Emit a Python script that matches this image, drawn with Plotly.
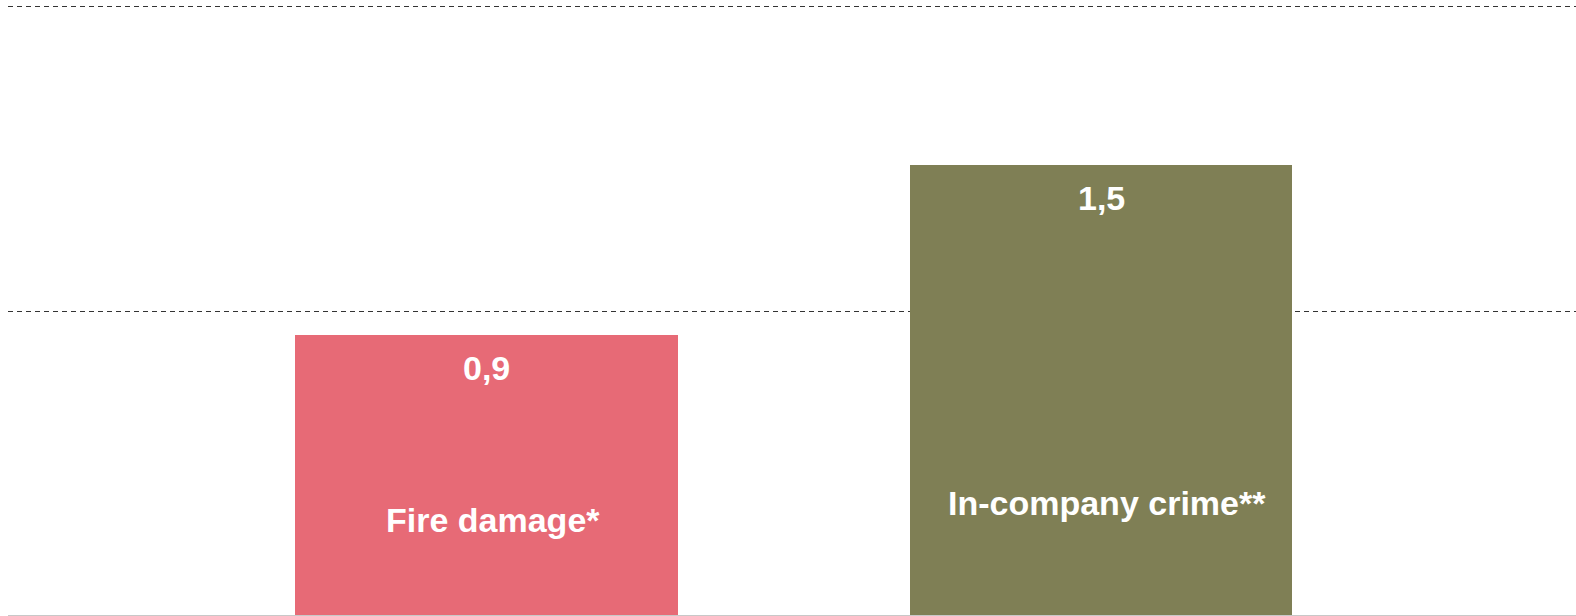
import plotly.graph_objects as go

# Data
categories = ["Fire damage*", "In-company crime**"]
values = [0.92, 1.48]
value_labels = ["0,9", "1,5"]
bar_colors = ["#E76A76", "#7F7F55"]
grid_ticks = [1, 2]

# Layout constants (label placement in axis units)
category_label_y = [0.311, 0.367]

fig = go.Figure()
fig.add_trace(go.Bar(
    x=[0, 1],
    y=values,
    width=0.623,
    marker=dict(color=bar_colors, line=dict(width=0)),
    hoverinfo="skip",
    showlegend=False,
))

font = dict(family="Arial, Liberation Sans, sans-serif", size=34, color="white")
for i, (v, lab) in enumerate(zip(values, value_labels)):
    fig.add_annotation(x=i, y=v, text="<b>%s</b>" % lab, showarrow=False,
                       xref="x", yref="y", yanchor="middle", yshift=-33,
                       font=font)
for i, (cat, ly) in enumerate(zip(categories, category_label_y)):
    fig.add_annotation(x=i, y=ly, text="<b>%s</b>" % cat, showarrow=False,
                       xref="x", yref="y", yanchor="middle", xshift=6,
                       font=font)

fig.update_layout(
    width=1576, height=616,
    margin=dict(l=8, r=0, t=0, b=1),
    paper_bgcolor="white", plot_bgcolor="white",
    separators=",.",
    xaxis=dict(range=[-0.7787, 1.773], showticklabels=False, ticks="",
               showgrid=False, zeroline=False, showline=True,
               linecolor="#c8c8c8", linewidth=1),
    yaxis=dict(range=[0, 2.023], tickvals=grid_ticks, showticklabels=False,
               ticks="", showgrid=True, gridcolor="#333333", gridwidth=1,
               griddash="5px,4px", zeroline=False, showline=False),
    bargap=0,
)

fig.write_html("out.html",
               config={"displayModeBar": False},
               post_script="document.body.style.margin='0';document.body.style.overflow='hidden';")
